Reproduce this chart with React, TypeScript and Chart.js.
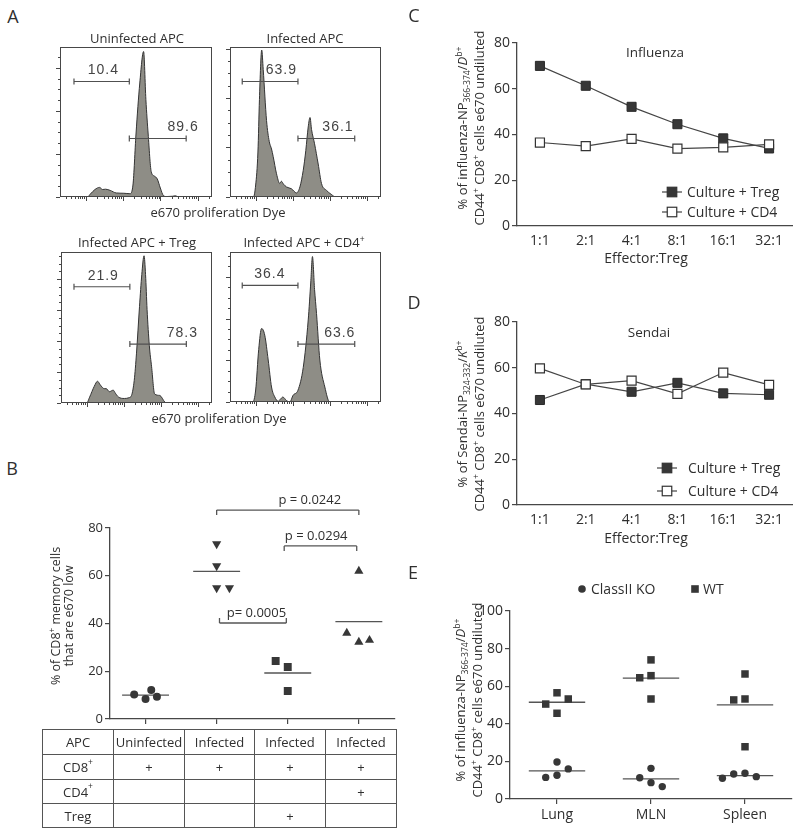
import React, { useEffect, useRef } from "react";
import { Chart, registerables } from "chart.js";

Chart.register(...registerables);

const FONT = "'Open Sans', 'Noto Sans', 'DejaVu Sans', sans-serif";
const NUM_FONT = "'Liberation Sans', Arial, sans-serif";
const INK = "#2f2f2f";
const AXIS = "#474747";
const MARK = "#373737";
const HIST_FILL = "#8e8d86";

Chart.defaults.font.family = FONT;
Chart.defaults.color = INK;

/* ---------------- Panel A : e670 dilution histograms ---------------- */
const histTitles = ["Uninfected APC", "Infected APC", "Infected APC + Treg", "Infected APC + CD4"];
// dye intensity (% of axis) vs relative cell count (% of max)
const uninfectedX = [0, 18, 20, 23, 26, 28, 30, 33, 37, 42, 46, 48, 50, 52.5, 55, 56.5, 58, 60, 62, 64, 66, 68, 70, 74, 76, 78, 100];
const uninfectedY = [0, 0, 2, 5, 6.4, 5, 5.2, 4.4, 2.7, 2.5, 2.2, 8, 42, 76, 97, 65, 42, 17, 14, 12, 6, 1, 0.3, 0.5, 0.8, 0, 0];
const infectedX = [0, 15.5, 17, 18.5, 19.5, 21, 22, 24.2, 26, 27.5, 28.6, 30.8, 33, 34, 35.5, 37.4, 40.7, 44, 46.3, 48.5, 50.2, 51.8, 53, 54, 56, 58.4, 60.6, 63.9, 67, 70, 100];
const infectedY = [0, 0, 8, 30, 65, 98, 85, 51, 37, 32, 27, 15.5, 9, 10.5, 8.5, 6.7, 5.5, 2.7, 6.7, 17.8, 31, 46.7, 53, 45, 35.5, 22, 9, 4.4, 1.8, 0, 0];
const infTregX = [0, 17, 19, 22, 24.2, 26, 28.6, 30, 32, 34.6, 36, 38, 42, 45, 46.7, 48.5, 50, 52, 53.5, 55, 56, 57, 58.5, 60, 62, 65.4, 68.7, 70, 100];
const infTregY = [0, 0, 4, 11, 14.4, 12, 9.5, 9.5, 7.5, 8.5, 6.5, 4, 3, 3.5, 5, 15, 33, 64, 85, 97.5, 85, 62, 38, 24, 6, 5, 0.7, 0, 0];
const infCD4X = [0, 15, 17, 19, 20.9, 23, 25.3, 27.5, 29.7, 31.9, 33.5, 35, 37.4, 39.6, 41.8, 45, 48.5, 51.8, 53.5, 54.6, 56, 57.3, 59.5, 62.8, 66, 100];
const infCD4Y = [0, 0, 8, 35, 49, 44.6, 28, 10, 3.3, 0.5, 2, 3.3, 1, 0, 4.5, 7.8, 23, 54.7, 80, 97, 75, 59, 28, 10, 0, 0];
const histXs = [uninfectedX, infectedX, infTregX, infCD4X];
const histYs = [uninfectedY, infectedY, infTregY, infCD4Y];
const histCountStep = [28.7, 33, 20.5, 27.8];
const histDecades = [17, 41.5, 66, 90.5];
// gates (dye axis %) and their percentages
const gateLeftFrom = [9.2, 8.1, 8.6, 8.1];
const gateSplit = [45.6, 45, 45.6, 45];
const gateRightTo = [83, 82.6, 83, 82.6];
const gateLeftLevel = [77, 77, 77, 77.7];
const gateRightLevel = [39, 39, 39, 38.6];
const gateLeftValues = ["10.4", "63.9", "21.9", "36.4"];
const gateRightValues = ["89.6", "36.1", "78.3", "63.6"];
const gateLeftLabelX = [28.5, 34, 28, 26.4];
const gateRightLabelX = [81, 71.5, 80.4, 72.7];

/* ---------------- Panel B ---------------- */
const bUninfected = [10.3, 8.4, 12.1, 9.3];
const bUninfectedJitter = [-0.16, 0, 0.08, 0.16];
const bInfected = [73.3, 64.1, 54.9, 54.9];
const bInfectedJitter = [0, 0, 0, 0.18];
const bTreg = [24.3, 21.8, 11.7];
const bTregJitter = [-0.17, 0, 0];
const bCD4 = [62, 36, 32.2, 33];
const bCD4Jitter = [0, -0.17, 0, 0.15];
const pFrom = [2.0, 2.95, 2.04];
const pTo = [4.0, 3.97, 2.98];
const pLevel = [87.5, 72.5, 40.2];
const pDir = [1, 1, -1];
const pLabels = ["p = 0.0242", "p = 0.0294", "p= 0.0005"];
const pLabelX = [3.31, 3.4, 2.56];
const tableAPC = ["Uninfected", "Infected", "Infected", "Infected"];
const tableCD8 = ["+", "+", "+", "+"];
const tableCD4 = ["", "", "", "+"];
const tableTreg = ["", "", "+", ""];

/* ---------------- Panels C, D ---------------- */
const ratios = ["1:1", "2:1", "4:1", "8:1", "16:1", "32:1"];
const fluTreg = [70, 61.3, 52.1, 44.5, 38.3, 33.9];
const fluCD4 = [36.5, 34.9, 38.1, 33.8, 34.4, 35.7];
const sendaiTreg = [45.9, 52.8, 49.5, 53.4, 48.8, 48.2];
const sendaiCD4 = [59.7, 52.7, 54.4, 48.6, 57.9, 52.5];
const seriesNames = ["Culture + Treg", "Culture + CD4"];

/* ---------------- Panel E ---------------- */
const tissues = ["Lung", "MLN", "Spleen"];
const lungWT = [50.5, 56.5, 53.2, 45.6];
const lungWTJitter = [-0.12, 0, 0.12, 0];
const lungKO = [11.5, 12.6, 19.7, 16];
const lungKOJitter = [-0.12, 0, 0, 0.12];
const mlnWT = [64.5, 65.6, 74, 53.2];
const mlnWTJitter = [-0.12, 0, 0, 0];
const mlnKO = [11.3, 16.3, 8.7, 6.6];
const mlnKOJitter = [-0.12, 0, 0, 0.12];
const spleenWT = [52.7, 53.2, 66.5, 27.8];
const spleenWTJitter = [-0.12, 0, 0, 0];
const spleenKO = [11, 13.3, 13.7, 11.9];
const spleenKOJitter = [-0.24, -0.12, 0, 0.12];
const eGroupNames = ["ClassII KO", "WT"];

/* ---------------- helpers ---------------- */
const pts = (vals: number[], jit: number[], g: number) => vals.map((v, i) => ({ x: g + jit[i], y: v }));
const meanLine = (vals: number[], g: number, half: number) => {
  const m = vals.reduce((a, b) => a + b, 0) / vals.length;
  return [{ x: g - half, y: m }, { x: g + half, y: m }];
};

function line(ctx: any, x1: number, y1: number, x2: number, y2: number) {
  ctx.beginPath();
  ctx.moveTo(x1, y1);
  ctx.lineTo(x2, y2);
  ctx.stroke();
}

function histPlugin(i: number) {
  return {
    id: "histDecor" + i,
    afterDatasetsDraw(chart: any) {
      const { ctx, chartArea: a, scales } = chart;
      const x = scales.x, y = scales.y;
      ctx.save();
      ctx.strokeStyle = AXIS;
      ctx.lineWidth = 1;
      ctx.strokeRect(a.left + 0.5, a.top + 0.5, a.right - a.left - 1, a.bottom - a.top - 1);
      // count ticks (left)
      const step = histCountStep[i] / 4;
      for (let k = 0; k * step <= 100; k++) {
        const py = Math.round(y.getPixelForValue(k * step)) + 0.5;
        const len = k % 4 === 0 ? 4 : 2;
        line(ctx, a.left - len, py, a.left, py);
      }
      // log dye ticks (bottom)
      const dec = histDecades[1] - histDecades[0];
      [histDecades[0] - dec, ...histDecades].forEach((d, di) => {
        for (let m = 1; m <= 9; m++) {
          const v = d + dec * Math.log10(m);
          if (v < 0 || v > 100) continue;
          const px = Math.round(x.getPixelForValue(v)) + 0.5;
          const len = m === 1 && di > 0 ? 4 : 2;
          line(ctx, px, a.bottom, px, a.bottom + len);
        }
      });
      // gates
      ctx.strokeStyle = "#505050";
      ctx.lineWidth = 1.2;
      const drawGate = (from: number, to: number, lvl: number, txt: string, lx: number) => {
        const py = y.getPixelForValue(lvl);
        const x1 = x.getPixelForValue(from), x2 = x.getPixelForValue(to);
        line(ctx, x1, py, x2, py);
        line(ctx, x1, py - 3, x1, py + 3);
        line(ctx, x2, py - 3, x2, py + 3);
        ctx.fillStyle = "#444";
        ctx.font = `14px ${NUM_FONT}`;
        (ctx as any).letterSpacing = "1px";
        ctx.textAlign = "center";
        ctx.textBaseline = "middle";
        ctx.fillText(txt, x.getPixelForValue(lx), py - 11);
      };
      drawGate(gateLeftFrom[i], gateSplit[i], gateLeftLevel[i], gateLeftValues[i], gateLeftLabelX[i]);
      drawGate(gateSplit[i], gateRightTo[i], gateRightLevel[i], gateRightValues[i], gateRightLabelX[i]);
      ctx.restore();
    },
  };
}

function histConfig(i: number) {
  return {
    type: "line",
    data: {
      datasets: [
        {
          data: histXs[i].map((v, k) => ({ x: v, y: histYs[i][k] })),
          fill: "origin",
          backgroundColor: HIST_FILL,
          borderColor: "#343434",
          borderWidth: 1,
          pointRadius: 0,
          cubicInterpolationMode: "monotone",
        },
      ],
    },
    options: {
      animation: false,
      responsive: false,
      devicePixelRatio: 1,
      layout: { padding: 10 },
      plugins: { legend: { display: false }, tooltip: { enabled: false } },
      scales: {
        x: { type: "linear", display: false, min: 0, max: 100 },
        y: { display: false, min: 0, max: 100 },
      },
    },
    plugins: [histPlugin(i)],
  };
}

const yAxis = (max: number, step: number, width: number, size: number) => ({
  min: 0,
  max,
  ticks: { stepSize: step, color: INK, font: { family: FONT, size }, padding: 2 },
  grid: { drawOnChartArea: false, tickLength: 5, color: AXIS, lineWidth: 1.2 },
  border: { color: AXIS, width: 1.3 },
  afterFit: (s: any) => {
    s.width = width;
  },
});

const bracketPlugin = {
  id: "brackets",
  afterDraw(chart: any) {
    const { ctx, scales } = chart;
    const x = scales.x, y = scales.y;
    ctx.save();
    ctx.strokeStyle = "#555";
    ctx.lineWidth = 1.3;
    ctx.fillStyle = INK;
    ctx.font = `13px ${FONT}`;
    ctx.textAlign = "center";
    ctx.textBaseline = "middle";
    pLabels.forEach((lab, i) => {
      const py = y.getPixelForValue(pLevel[i]);
      const x1 = x.getPixelForValue(pFrom[i]), x2 = x.getPixelForValue(pTo[i]);
      line(ctx, x1, py, x2, py);
      line(ctx, x1, py, x1, py + 5 * pDir[i]);
      line(ctx, x2, py, x2, py + 5 * pDir[i]);
      ctx.fillText(lab, x.getPixelForValue(pLabelX[i]), py - (pDir[i] > 0 ? 10 : 10));
    });
    ctx.restore();
  },
};

function bConfig() {
  const base = { type: "scatter", backgroundColor: MARK, borderColor: MARK, borderWidth: 0 };
  const ml = (vals: number[], g: number) => ({
    type: "scatter",
    data: meanLine(vals, g, 0.33),
    showLine: true,
    borderColor: "#555",
    borderWidth: 1.3,
    pointRadius: 0,
  });
  return {
    type: "scatter",
    data: {
      datasets: [
        { ...base, data: pts(bUninfected, bUninfectedJitter, 1), pointStyle: "circle", pointRadius: 4 },
        { ...base, data: pts(bInfected, bInfectedJitter, 2), pointStyle: "triangle", rotation: 180, pointRadius: 5.3 },
        { ...base, data: pts(bTreg, bTregJitter, 3), pointStyle: "rect", pointRadius: 5.6 },
        { ...base, data: pts(bCD4, bCD4Jitter, 4), pointStyle: "triangle", pointRadius: 5.3 },
        ml(bUninfected, 1),
        ml(bInfected, 2),
        ml(bTreg, 3),
        ml(bCD4, 4),
      ],
    },
    options: {
      animation: false,
      responsive: false,
      devicePixelRatio: 1,
      layout: { padding: { top: 38, right: 3, left: 0, bottom: 0 } },
      plugins: { legend: { display: false }, tooltip: { enabled: false } },
      scales: {
        x: {
          type: "linear",
          min: 0.5,
          max: 4.5,
          afterBuildTicks: (s: any) => {
            s.ticks = tableAPC.map((_, i) => ({ value: i + 1 }));
          },
          ticks: { display: false },
          grid: { drawOnChartArea: false, tickLength: 5, color: AXIS, lineWidth: 1.2 },
          border: { color: AXIS, width: 1.3 },
          afterFit: (s: any) => {
            s.height = 11;
          },
        },
        y: yAxis(80, 20, 110, 13),
      },
    },
    plugins: [bracketPlugin],
  };
}

function lineLegendPlugin(title: string, tx: number, ty: number, mx: number, rows: number[], textX: number) {
  return {
    id: "lineLegend",
    afterDraw(chart: any) {
      const ctx = chart.ctx;
      ctx.save();
      ctx.fillStyle = INK;
      ctx.font = `13.5px ${FONT}`;
      ctx.textAlign = "center";
      ctx.textBaseline = "middle";
      ctx.fillText(title, tx, ty);
      ctx.font = `14px ${FONT}`;
      ctx.textAlign = "left";
      rows.forEach((ry, i) => {
        ctx.strokeStyle = "#444";
        ctx.lineWidth = 1.2;
        line(ctx, mx - 10, ry, mx + 10, ry);
        const s = 9.5;
        ctx.fillStyle = i === 0 ? MARK : "#fff";
        ctx.fillRect(mx - s / 2, ry - s / 2, s, s);
        ctx.strokeStyle = "#333";
        ctx.strokeRect(mx - s / 2, ry - s / 2, s, s);
        ctx.fillStyle = INK;
        ctx.fillText(seriesNames[i], textX, ry + 1);
      });
      ctx.restore();
    },
  };
}

function ratioConfig(treg: number[], cd4: number[], plugin: any) {
  return {
    type: "line",
    data: {
      labels: ratios,
      datasets: [
        {
          data: cd4,
          borderColor: "#454545",
          borderWidth: 1.2,
          pointStyle: "rect",
          pointRadius: 6.4,
          pointBackgroundColor: "#fff",
          pointBorderColor: "#333",
          pointBorderWidth: 1.2,
          tension: 0,
        },
        {
          data: treg,
          borderColor: "#454545",
          borderWidth: 1.2,
          pointStyle: "rect",
          pointRadius: 6.4,
          pointBackgroundColor: MARK,
          pointBorderColor: "#2a2a2a",
          pointBorderWidth: 1,
          tension: 0,
        },
      ],
    },
    options: {
      animation: false,
      responsive: false,
      devicePixelRatio: 1,
      layout: { padding: { top: 43, right: 8, left: 0, bottom: 0 } },
      plugins: { legend: { display: false }, tooltip: { enabled: false } },
      scales: {
        x: {
          type: "category",
          offset: true,
          ticks: { color: INK, font: { family: FONT, size: 14 }, padding: 7, maxRotation: 0, autoSkip: false },
          grid: { drawOnChartArea: false, drawTicks: false, offset: false },
          border: { color: AXIS, width: 1.3 },
          afterFit: (s: any) => {
            s.height = 40;
          },
        },
        y: yAxis(80, 20, 117, 14),
      },
    },
    plugins: [plugin],
  };
}

const eLegendPlugin = {
  id: "eLegend",
  afterDraw(chart: any) {
    const ctx = chart.ctx;
    ctx.save();
    ctx.fillStyle = MARK;
    ctx.beginPath();
    ctx.arc(182, 29, 3.8, 0, Math.PI * 2);
    ctx.fill();
    ctx.fillRect(295 - 3.8, 29 - 3.8, 7.6, 7.6);
    ctx.fillStyle = INK;
    ctx.font = `14px ${FONT}`;
    ctx.textAlign = "left";
    ctx.textBaseline = "middle";
    ctx.fillText(eGroupNames[0], 191, 30);
    ctx.fillText(eGroupNames[1], 303, 30);
    ctx.restore();
  },
};

function eConfig() {
  const sq = { type: "scatter", backgroundColor: MARK, borderColor: MARK, borderWidth: 0, pointStyle: "rect", pointRadius: 5.3 };
  const ci = { type: "scatter", backgroundColor: MARK, borderColor: MARK, borderWidth: 0, pointStyle: "circle", pointRadius: 3.7 };
  const ml = (vals: number[], g: number) => ({
    type: "scatter",
    data: meanLine(vals, g, 0.3),
    showLine: true,
    borderColor: "#555",
    borderWidth: 1.3,
    pointRadius: 0,
  });
  return {
    type: "scatter",
    data: {
      datasets: [
        { ...sq, data: pts(lungWT, lungWTJitter, 1) },
        { ...sq, data: pts(mlnWT, mlnWTJitter, 2) },
        { ...sq, data: pts(spleenWT, spleenWTJitter, 3) },
        { ...ci, data: pts(lungKO, lungKOJitter, 1) },
        { ...ci, data: pts(mlnKO, mlnKOJitter, 2) },
        { ...ci, data: pts(spleenKO, spleenKOJitter, 3) },
        ml(lungWT, 1),
        ml(mlnWT, 2),
        ml(spleenWT, 3),
        ml(lungKO, 1),
        ml(mlnKO, 2),
        ml(spleenKO, 3),
      ],
    },
    options: {
      animation: false,
      responsive: false,
      devicePixelRatio: 1,
      layout: { padding: { top: 51, right: 8, left: 0, bottom: 0 } },
      plugins: { legend: { display: false }, tooltip: { enabled: false } },
      scales: {
        x: {
          type: "linear",
          min: 0.5,
          max: 3.5,
          afterBuildTicks: (s: any) => {
            s.ticks = tissues.map((_, i) => ({ value: i + 1 }));
          },
          ticks: {
            color: INK,
            font: { family: FONT, size: 14 },
            padding: 3,
            maxRotation: 0,
            autoSkip: false,
            callback: (_v: any, i: number) => tissues[i],
          },
          grid: { drawOnChartArea: false, tickLength: 5, color: AXIS, lineWidth: 1.2 },
          border: { color: AXIS, width: 1.3 },
          afterFit: (s: any) => {
            s.height = 37;
          },
        },
        y: yAxis(100, 20, 110, 14),
      },
    },
    plugins: [eLegendPlugin],
  };
}

type Spec = { left: number; top: number; width: number; height: number; make: () => any };

const specs: Spec[] = [
  { left: 50, top: 37, width: 172, height: 170, make: () => histConfig(0) },
  { left: 220, top: 37, width: 171, height: 170, make: () => histConfig(1) },
  { left: 51, top: 242, width: 171, height: 171, make: () => histConfig(2) },
  { left: 220, top: 242, width: 171, height: 170, make: () => histConfig(3) },
  { left: 0, top: 490, width: 400, height: 240, make: bConfig },
  { left: 400, top: 0, width: 400, height: 266, make: () => ratioConfig(fluTreg, fluCD4, lineLegendPlugin("Influenza", 255, 53, 272, [192, 212], 287)) },
  { left: 400, top: 279, width: 400, height: 266, make: () => ratioConfig(sendaiTreg, sendaiCD4, lineLegendPlugin("Sendai", 249, 54, 267, [189, 212], 288)) },
  { left: 400, top: 560, width: 400, height: 276, make: eConfig },
];

const sup = (s: string) => (
  <span style={{ fontSize: "0.66em", position: "relative", top: "-0.6em", lineHeight: 0 }}>{s}</span>
);
const sub = (s: string) => (
  <span style={{ fontSize: "0.66em", position: "relative", top: "0.35em", lineHeight: 0 }}>{s}</span>
);

function T({ x, y, size = 13, children }: { x: number; y: number; size?: number; children: any }) {
  return (
    <div
      style={{
        position: "absolute",
        left: x,
        top: y,
        transform: "translate(-50%,-50%)",
        fontSize: size,
        whiteSpace: "nowrap",
        lineHeight: 1,
      }}
    >
      {children}
    </div>
  );
}

function RotTitle({ cx, cy, size, gap, lines }: { cx: number; cy: number; size: number; gap: number; lines: any[] }) {
  return (
    <div
      style={{
        position: "absolute",
        left: cx,
        top: cy,
        transform: "translate(-50%,-50%) rotate(-90deg)",
        textAlign: "center",
        whiteSpace: "nowrap",
        fontSize: size,
        lineHeight: `${gap}px`,
      }}
    >
      {lines.map((l, i) => (
        <div key={i}>{l}</div>
      ))}
    </div>
  );
}

const fluTitle = [
  <>% of influenza-NP{sub("366-374")}/<i>D</i>{sup("b+")}</>,
  <>CD44{sup("+")} CD8{sup("+")} cells e670 undiluted</>,
];
const sendaiTitle = [
  <>% of Sendai-NP{sub("324-332")}/<i>K</i>{sup("b+")}</>,
  <>CD44{sup("+")} CD8{sup("+")} cells e670 undiluted</>,
];

export default function App() {
  const refs = useRef<(HTMLCanvasElement | null)[]>([]);
  useEffect(() => {
    const charts = specs.map((s, i) => new Chart(refs.current[i] as HTMLCanvasElement, s.make()));
    return () => charts.forEach((c) => c.destroy());
  }, []);

  const colX = [42, 113, 184, 254, 325, 397];
  const rowY = [729, 754, 779, 803, 828];
  const rowHeads = [<>APC</>, <>CD8{sup("+")}</>, <>CD4{sup("+")}</>, <>Treg</>];
  const rowCells = [tableAPC, tableCD8, tableCD4, tableTreg];

  return (
    <div
      style={{
        position: "absolute",
        left: 0,
        top: 0,
        width: 800,
        height: 836,
        background: "#fff",
        fontFamily: FONT,
        color: INK,
        overflow: "hidden",
      }}
    >
      {specs.map((s, i) => (
        <canvas
          key={i}
          ref={(el) => {
            refs.current[i] = el;
          }}
          width={s.width}
          height={s.height}
          style={{ position: "absolute", left: s.left, top: s.top, width: s.width, height: s.height }}
        />
      ))}

      {/* panel letters */}
      <T x={13} y={16} size={18}>A</T>
      <T x={12} y={468} size={18}>B</T>
      <T x={414} y={15} size={18}>C</T>
      <T x={414} y={302} size={18}>D</T>
      <T x={413} y={572} size={18}>E</T>

      {/* panel A text */}
      <T x={137} y={38}>{histTitles[0]}</T>
      <T x={305} y={38}>{histTitles[1]}</T>
      <T x={137} y={242}>{histTitles[2]}</T>
      <T x={304} y={242}>{histTitles[3]}{sup("+")}</T>
      <T x={218} y={212}>e670 proliferation Dye</T>
      <T x={219} y={418}>e670 proliferation Dye</T>

      {/* panel B */}
      <RotTitle cx={62} cy={616} size={12.5} gap={12.5} lines={[<>% of CD8{sup("+")} memory cells</>, <>that are e670 low</>]} />
      {rowCells.map((cells, r) => (
        <React.Fragment key={r}>
          {[rowHeads[r], ...cells].map((c, k) => (
            <div
              key={k}
              style={{
                position: "absolute",
                left: colX[k],
                top: rowY[r],
                width: colX[k + 1] - colX[k],
                height: rowY[r + 1] - rowY[r],
                boxSizing: "border-box",
                borderLeft: "1.3px solid #555",
                borderTop: "1.3px solid #555",
                borderRight: k === 4 ? "1.3px solid #555" : "none",
                borderBottom: r === 3 ? "1.3px solid #555" : "none",
                display: "flex",
                alignItems: "center",
                justifyContent: "center",
                fontSize: 13,
              }}
            >
              {c}
            </div>
          ))}
        </React.Fragment>
      ))}

      {/* panels C, D, E titles */}
      <RotTitle cx={470.5} cy={128} size={13} gap={17} lines={fluTitle} />
      <T x={646} y={258} size={14}>Effector:Treg</T>
      <RotTitle cx={470.5} cy={414} size={13} gap={17} lines={sendaiTitle} />
      <T x={646} y={538} size={14}>Effector:Treg</T>
      <RotTitle cx={469} cy={700} size={13} gap={17} lines={fluTitle} />
    </div>
  );
}
